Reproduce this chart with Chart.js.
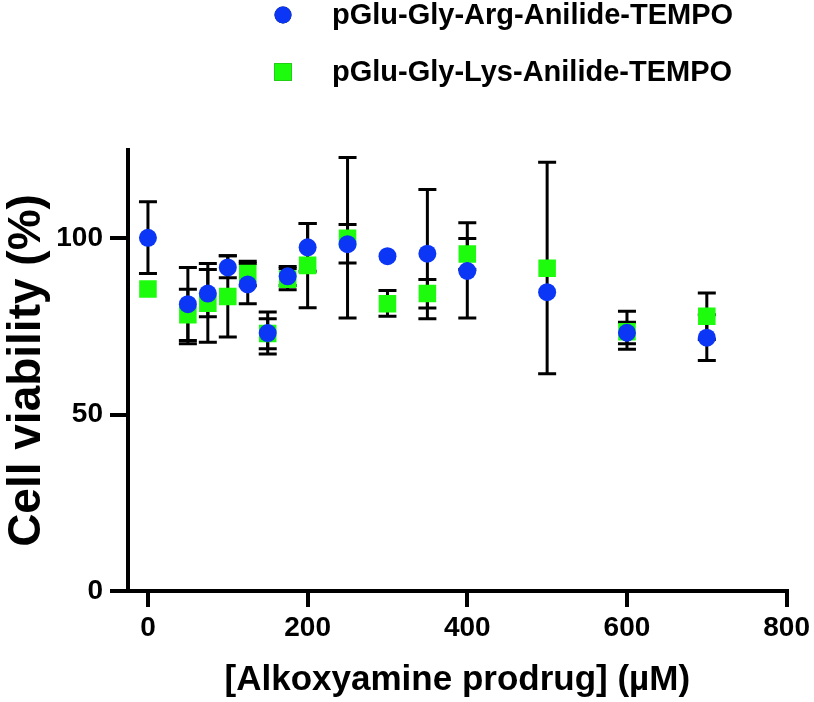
<!DOCTYPE html>
<html>
<head>
<meta charset="utf-8">
<script src="https://cdn.jsdelivr.net/npm/chart.js@4/dist/chart.umd.min.js"></script>
<style>
  body { margin: 0; background: #fff; }
  #wrap { width: 814px; height: 702px; position: relative; }
</style>
</head>
<body>
<div id="wrap"><canvas id="chart"></canvas></div>
<script>
// concentrations (µM)
const concentrations = [0, 50, 75, 100, 125, 150, 175, 200, 250, 300, 350, 400, 500, 600, 700];

// pGlu-Gly-Arg-Anilide-TEMPO
const argMean = [100.1, 81.3, 84.3, 91.7, 86.9, 73.1, 89.2, 97.4, 98.3, 94.9, 95.6, 90.7, 84.7, 73.2, 71.8];
const argLow  = [90.0, 70.1, 77.7, 88.8, 81.4, 67.2, 86.6, 90.6, 77.4, null, 77.2, 77.4, null, 68.5, 65.3];
const argHigh = [110.3, 91.7, 91.1, 95.0, 92.8, 79.1, 92.0, 104.2, 122.9, null, 113.8, 104.4, null, 79.3, 78.3];

// pGlu-Gly-Lys-Anilide-TEMPO
const lysMean = [85.6, 78.3, 81.6, 83.5, 90.0, 73.0, 88.4, 92.3, 100.0, 81.4, 84.3, 95.5, 91.5, 73.5, 77.9];
const lysLow  = [null, 71.0, 70.5, 72.0, 86.5, 68.7, 85.4, 80.3, 93.0, 77.9, 80.2, 91.1, 61.6, 70.1, 71.3];
const lysHigh = [null, 85.5, 92.8, 95.0, 93.5, 77.2, 91.4, 104.2, 103.9, 85.2, 88.3, 99.9, 121.5, 76.2, 84.5];

const xTicks = [0, 200, 400, 600, 800];
const yTicks = [0, 50, 100];

const BLUE = '#0b36f5';
const GREEN = '#1cfc0c';
const FONT = "'Liberation Sans', Arial, sans-serif";

Chart.defaults.font.family = FONT;
Chart.defaults.font.weight = 'bold';
Chart.defaults.color = '#000';

function points(ys) {
  return concentrations.map((x, i) => ({ x: x, y: ys[i] }));
}

// error bars, drawn under the markers
const errorBars = {
  id: 'errorBars',
  beforeDatasetsDraw(chart) {
    const ctx = chart.ctx;
    const xs = chart.scales.x, ys = chart.scales.y;
    ctx.save();
    ctx.strokeStyle = '#000';
    ctx.lineWidth = 3;
    chart.data.datasets.forEach(ds => {
      ds.data.forEach((p, i) => {
        const lo = ds.errLow[i], hi = ds.errHigh[i];
        if (lo == null || hi == null) return;
        const px = xs.getPixelForValue(p.x);
        const yLo = ys.getPixelForValue(lo);
        const yHi = ys.getPixelForValue(hi);
        ctx.beginPath();
        ctx.moveTo(px, yLo); ctx.lineTo(px, yHi);
        ctx.moveTo(px - 9, yLo); ctx.lineTo(px + 9, yLo);
        ctx.moveTo(px - 9, yHi); ctx.lineTo(px + 9, yHi);
        ctx.stroke();
      });
    });
    ctx.restore();
  }
};

// legend stacked at the top right
const topLegend = {
  id: 'topLegend',
  afterDraw(chart) {
    const ctx = chart.ctx;
    ctx.save();
    ctx.font = 'bold 29px ' + FONT;
    ctx.fillStyle = '#000';
    ctx.textBaseline = 'middle';
    chart.data.datasets.forEach((ds, i) => {
      const y = 15 + i * 57;
      Chart.helpers.drawPoint(ctx, {
        pointStyle: ds.pointStyle, radius: ds.legendRadius, borderWidth: 0
      }, 283, y);
      ctx.fillStyle = ds.backgroundColor;
      ctx.fill();
      ctx.fillStyle = '#000';
      ctx.fillText(ds.label, 332, y + 1);
    });
    ctx.restore();
  }
};

new Chart(document.getElementById('chart'), {
  type: 'scatter',
  data: {
    datasets: [
      {
        label: 'pGlu-Gly-Arg-Anilide-TEMPO',
        data: points(argMean),
        errLow: argLow,
        errHigh: argHigh,
        pointStyle: 'circle',
        pointRadius: 9,
        legendRadius: 8.5,
        backgroundColor: BLUE,
        borderWidth: 0
      },
      {
        label: 'pGlu-Gly-Lys-Anilide-TEMPO',
        data: points(lysMean),
        errLow: lysLow,
        errHigh: lysHigh,
        pointStyle: 'rect',
        pointRadius: 12.4,
        legendRadius: 12.4,
        backgroundColor: GREEN,
        borderWidth: 0
      }
    ]
  },
  options: {
    responsive: true,
    maintainAspectRatio: false,
    animation: false,
    layout: { padding: { top: 150, right: 26, left: 0, bottom: 0 } },
    plugins: {
      legend: { display: false },
      tooltip: { enabled: false }
    },
    scales: {
      x: {
        type: 'linear',
        min: -25,
        max: 800,
        afterBuildTicks: s => { s.ticks = xTicks.map(v => ({ value: v })); },
        afterFit: s => { s.height = 111; },
        grid: { display: true, drawOnChartArea: false, drawTicks: true, tickLength: 16, color: '#000', lineWidth: 4 },
        border: { display: true, color: '#000', width: 4 },
        ticks: { font: { size: 28, weight: 'bold' }, padding: 4, color: '#000' },
        title: {
          display: true,
          text: '[Alkoxyamine prodrug] (µM)',
          font: { size: 35, weight: 'bold' },
          padding: { top: 0, bottom: 1 }
        }
      },
      y: {
        type: 'linear',
        min: 0,
        max: 125,
        afterBuildTicks: s => { s.ticks = yTicks.map(v => ({ value: v })); },
        afterFit: s => { s.width = 128; },
        grid: { display: true, drawOnChartArea: false, drawTicks: true, tickLength: 18, color: '#000', lineWidth: 4 },
        border: { display: true, color: '#000', width: 4 },
        ticks: { font: { size: 28, weight: 'bold' }, padding: 7, color: '#000' },
        title: {
          display: true,
          text: 'Cell viability (%)',
          font: { size: 46, weight: 'bold' },
          padding: { top: 0, bottom: 0 }
        }
      }
    }
  },
  plugins: [errorBars, topLegend]
});
</script>
</body>
</html>
